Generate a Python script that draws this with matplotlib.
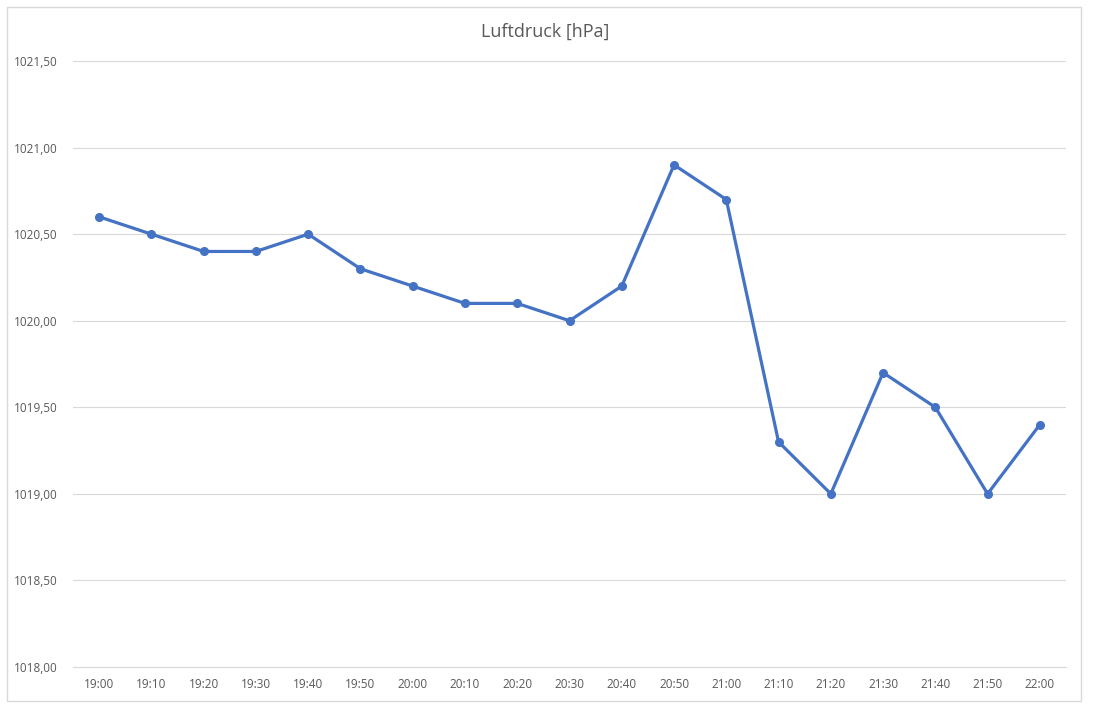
import numpy as np
import matplotlib.pyplot as plt
from matplotlib.patches import Rectangle

plt.rcParams['font.family'] = ['Open Sans', 'DejaVu Sans']

zeiten = ['19:00', '19:10', '19:20', '19:30', '19:40', '19:50', '20:00',
          '20:10', '20:20', '20:30', '20:40', '20:50', '21:00', '21:10',
          '21:20', '21:30', '21:40', '21:50', '22:00']
druck = [1020.6, 1020.5, 1020.4, 1020.4, 1020.5, 1020.3, 1020.2,
         1020.1, 1020.1, 1020.0, 1020.2, 1020.9, 1020.7, 1019.3,
         1019.0, 1019.7, 1019.5, 1019.0, 1019.4]
y_ticks = [1018.0, 1018.5, 1019.0, 1019.5, 1020.0, 1020.5, 1021.0, 1021.5]

fig = plt.figure(figsize=(10.99, 7.10), dpi=100)
# chart border
fig.patches.append(Rectangle((7/1099, 9/710), 1074/1099, 694/710,
                             transform=fig.transFigure, fill=False,
                             edgecolor='#d9d9d9', linewidth=1))

ax = fig.add_axes([73/1099, 43/710, 993/1099, 606/710])
x = np.arange(len(zeiten))
ax.plot(x, druck, color='#4472c4', linewidth=2.3, marker='o', markersize=5.5)

ax.set_xlim(-0.5, len(zeiten) - 0.5)
ax.set_ylim(1018.0, 1021.5)
ax.set_xticks(x)
ax.set_xticklabels(zeiten)
ax.set_yticks(y_ticks)
ax.set_yticklabels([('%.2f' % v).replace('.', ',') for v in y_ticks])

ax.grid(True, axis='y', color='#d9d9d9', linewidth=0.8)
ax.set_axisbelow(True)
for s in ['top', 'right', 'left']:
    ax.spines[s].set_visible(False)
ax.spines['bottom'].set_color('#d9d9d9')
ax.tick_params(length=0, labelsize=8.5, colors='#595959')
ax.tick_params(axis='y', pad=11)
ax.tick_params(axis='x', pad=8)

fig.text(545/1099, 1 - 32/710, 'Luftdruck [hPa]', ha='center', va='center',
         fontsize=13, color='#595959')

plt.savefig('out.png', dpi=100)
plt.close()
